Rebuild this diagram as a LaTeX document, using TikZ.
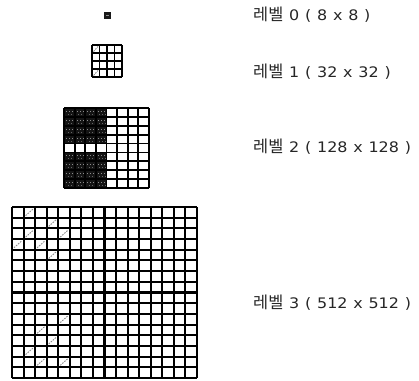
\documentclass[tikz,border=0pt]{standalone}
\usepackage{fontspec}
\setmainfont{DejaVu Sans}[FakeStretch=1.1]
\newfontfamily\kr{Noto Sans CJK KR}[Scale=1.13]
\newcommand{\lev}{{\kr 레벨}}
\newcommand{\mysp}{\spaceskip=5.8pt\relax}
\begin{document}
\begin{tikzpicture}[x=1pt,y=-1pt,
  gridline/.style={line width=2.1pt, black},
  hatch/.style={draw=black!45, line width=0.9pt, dash pattern=on 1.6pt off 1.1pt},
  lbl/.style={anchor=west, inner sep=0pt, text=black!85,
    font=\fontsize{14.5}{16}\selectfont\mysp}
]
\useasboundingbox (0,0) rectangle (419,380);

% ---------- Level 0 ----------
\fill[black!90] (104,12) rectangle (111,19);
\fill[black!45] (106,14.5) rectangle (109,15.5);
\node[lbl] (t0) at (253,15) {\lev{} 0 ( 8 x 8 )};

% ---------- Level 1 (4x4) ----------
\def\ax{92}\def\ay{45}\def\aw{7.5}\def\ah{8}
\foreach \r/\c in {0/0,3/0}{
  \draw[hatch] ({\ax+\c*\aw+1.5},{\ay+(\r+1)*\ah-1.5}) -- ({\ax+(\c+1)*\aw-1.5},{\ay+\r*\ah+1.5});
}
\foreach \i in {0,...,4}{
  \draw[line width=1.6pt] ({\ax+\i*\aw},\ay) -- ({\ax+\i*\aw},{\ay+4*\ah});
  \draw[line width=1.6pt] (\ax,{\ay+\i*\ah}) -- ({\ax+4*\aw},{\ay+\i*\ah});
}
\node[lbl] (t1) at (253,72) {\lev{} 1 ( 32 x 32 )};

% ---------- Level 2 (8 cols x 9 rows) ----------
\def\bx{64}\def\by{108}\def\bw{10.625}\def\bh{8.889}
\fill[black!92] (\bx,\by) rectangle ({\bx+4*\bw},{\by+4*\bh});
\fill[black!92] (\bx,{\by+5*\bh}) rectangle ({\bx+4*\bw},{\by+9*\bh});
\foreach \r in {0,1,2,3,5,6,7,8}{
  \foreach \c in {0,...,3}{
    \foreach \k in {0,1,2}{
      \fill[black!45] ({\bx+\c*\bw+2+\k*3},{\by+\r*\bh+3}) rectangle +(1,1);
      \fill[black!60] ({\bx+\c*\bw+3.5+\k*3},{\by+\r*\bh+6}) rectangle +(0.8,0.8);
    }
  }
}
\foreach \i in {0,...,8}{
  \draw[line width=1.8pt] ({\bx+\i*\bw},\by) -- ({\bx+\i*\bw},{\by+9*\bh});
}
\foreach \i in {0,...,9}{
  \draw[line width=1.8pt] (\bx,{\by+\i*\bh}) -- ({\bx+8*\bw},{\by+\i*\bh});
}
\node[lbl] (t2) at (253,147) {\lev{} 2 ( 128 x 128 )};

% ---------- Level 3 (16x16) ----------
\def\cx{12}\def\cy{207}\def\cw{11.5625}\def\ch{10.6875}
\foreach \r/\c in {0/1,1/3,2/1,2/4,3/0,3/2,4/3,10/4,11/2,12/3,13/1,14/2,14/4}{
  \draw[hatch] ({\cx+\c*\cw+2},{\cy+(\r+1)*\ch-2}) -- ({\cx+(\c+1)*\cw-2},{\cy+\r*\ch+2});
}
\foreach \i in {0,...,16}{
  \draw[gridline] ({\cx+\i*\cw},\cy) -- ({\cx+\i*\cw},{\cy+16*\ch});
  \draw[gridline] (\cx,{\cy+\i*\ch}) -- ({\cx+16*\cw},{\cy+\i*\ch});
}
\node[lbl] (t3) at (253,303) {\lev{} 3 ( 512 x 512 )};
\end{tikzpicture}
\end{document}
